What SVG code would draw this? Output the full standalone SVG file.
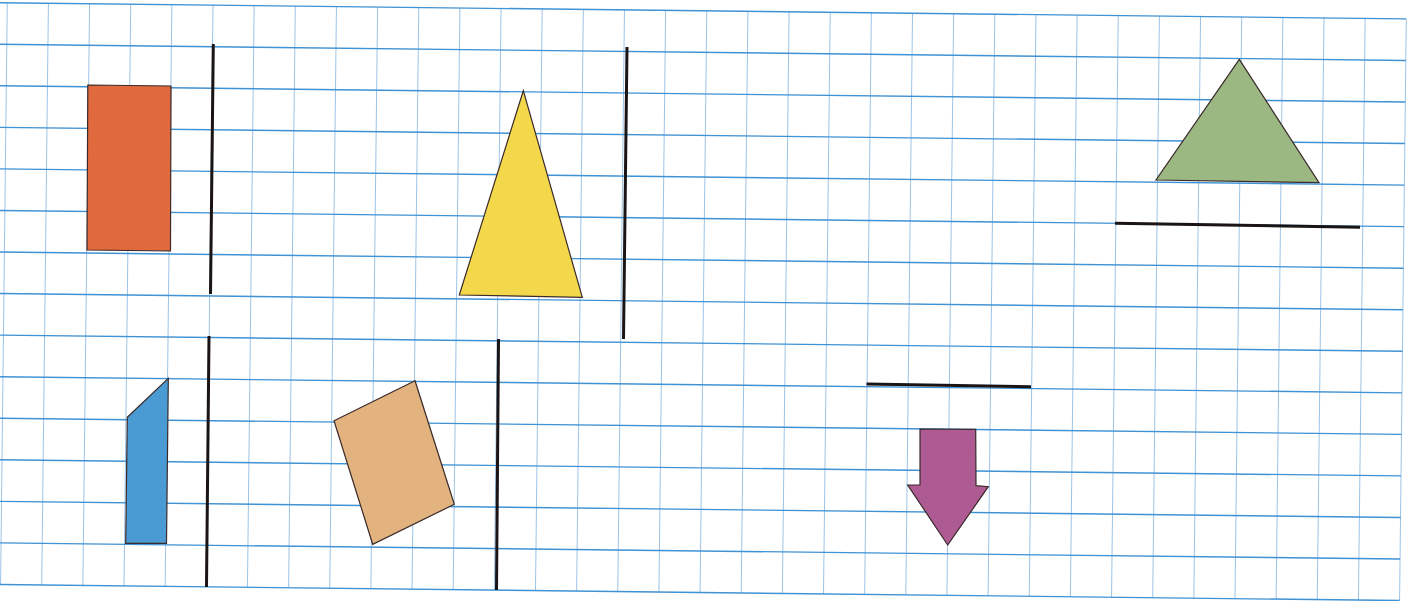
<svg xmlns="http://www.w3.org/2000/svg" width="1415" height="601" viewBox="0 0 1415 601">
<style>
.h{stroke:#3f92d4;stroke-width:1.4;fill:none}
.v{stroke:#9cc3e6;stroke-width:1;fill:none}
.shape{stroke:#3a2a2a;stroke-width:1.2;stroke-linejoin:miter}
.axis{stroke:#1a1414;stroke-width:3;stroke-linecap:butt}
</style>
<rect x="0" y="0" width="1415" height="601" fill="#ffffff"/>
<g id="grid" transform="rotate(0.66)">
<path class="v" d="M7.3 2.7V584.4M48.45 2.7V584.4M89.6 2.7V584.4M130.75 2.7V584.4M171.9 2.7V584.4M213.05 2.7V584.4M254.2 2.7V584.4M295.35 2.7V584.4M336.5 2.7V584.4M377.65 2.7V584.4M418.8 2.7V584.4M459.95 2.7V584.4M501.1 2.7V584.4M542.25 2.7V584.4M583.4 2.7V584.4M624.55 2.7V584.4M665.7 2.7V584.4M706.85 2.7V584.4M748 2.7V584.4M789.15 2.7V584.4M830.3 2.7V584.4M871.45 2.7V584.4M912.6 2.7V584.4M953.75 2.7V584.4M994.9 2.7V584.4M1036.05 2.7V584.4M1077.2 2.7V584.4M1118.35 2.7V584.4M1159.5 2.7V584.4M1200.65 2.7V584.4M1241.8 2.7V584.4M1282.95 2.7V584.4M1324.1 2.7V584.4M1365.25 2.7V584.4M1406.4 2.7V584.4"/>
<path class="h" d="M0 2.7H1406.4M0 44.25H1406.4M0 85.8H1406.4M0 127.35H1406.4M0 168.9H1406.4M0 210.45H1406.4M0 252H1406.4M0 293.55H1406.4M0 335.1H1406.4M0 376.65H1406.4M0 418.2H1406.4M0 459.75H1406.4M0 501.3H1406.4M0 542.85H1406.4M0 584.4H1406.4"/>
</g>
<g id="axes">
<line class="axis" x1="213.3" y1="44" x2="210.5" y2="294"/>
<line class="axis" x1="209" y1="336" x2="206.5" y2="587"/>
<line class="axis" x1="627" y1="47" x2="623.5" y2="339"/>
<line class="axis" x1="498.5" y1="339" x2="496.5" y2="590"/>
<line class="axis" x1="1115" y1="223.3" x2="1360" y2="227.3"/>
<line class="axis" x1="866.5" y1="384" x2="1031" y2="386.7"/>
</g>
<g id="orange-rectangle"><polygon class="shape" fill="#e0693d" points="87.8,85 171,86 170.5,251 87,250"/></g>
<g id="yellow-triangle"><polygon class="shape" fill="#f3d84c" points="523.3,90.7 459.3,295 582.3,297.3"/></g>
<g id="green-triangle"><polygon class="shape" fill="#9cb882" points="1239.3,59.3 1156,180 1319,182.7"/></g>
<g id="blue-shape"><polygon class="shape" fill="#4a9ad4" points="127.3,417.3 168.3,378.3 166.5,543.3 125.7,543.3"/></g>
<g id="tan-rectangle"><polygon class="shape" fill="#e3b37f" points="415,380.7 334,420.7 372.7,544.3 454.3,504.3"/></g>
<g id="purple-arrow"><polygon class="shape" fill="#ae5a93" points="920,429 975.7,429.3 976,485.7 988.3,486.7 947.7,545 907.7,485 920,485"/></g>
</svg>
